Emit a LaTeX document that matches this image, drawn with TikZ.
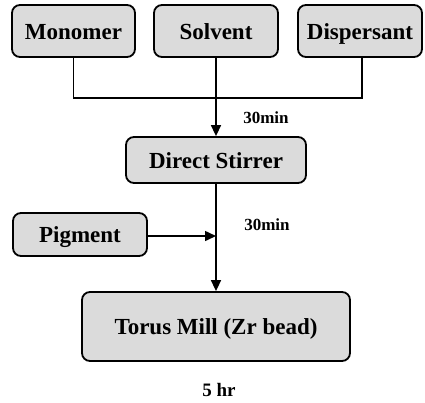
\documentclass[tikz,border=0pt]{standalone}
\usepackage{fontspec}
\setmainfont{Liberation Serif}
\usetikzlibrary{arrows.meta}
\begin{document}
\begin{tikzpicture}[x=1pt,y=-1pt,
  box/.style={draw=black,line width=1.8pt,rounded corners=8pt,fill=gray!28,
    inner sep=0pt,text height=16.5pt,text depth=0pt,
    font=\fontsize{23}{25}\selectfont\bfseries},
  lbl/.style={inner sep=0pt,font=\fontsize{17}{19}\selectfont\bfseries},
  conn/.style={line width=1.5pt},
  arr/.style={line width=1.5pt,-{Triangle[length=11pt,width=10pt]}}]
\useasboundingbox (0,0) rectangle (425,402);
\node[box,minimum width=123pt,minimum height=52pt] (mono) at (73.5,31) {Monomer};
\node[box,minimum width=124pt,minimum height=52pt] (solv) at (216,31) {Solvent};
\node[box,minimum width=124pt,minimum height=52pt] (disp) at (360,31) {Dispersant};
\node[box,minimum width=180pt,minimum height=46pt] (stir) at (216,160) {Direct Stirrer};
\node[box,minimum width=134pt,minimum height=43pt] (pig) at (80,234.5) {Pigment};
\node[box,minimum width=268pt,minimum height=69pt] (torus) at (216,326.5) {Torus Mill (Zr bead)};
\coordinate (j1) at (216,98);
\coordinate (j2) at (216,236);
\draw[conn] (mono.south) |- (j1) -| ([xshift=2pt]disp.south);
\draw[conn] (solv.south) -- (j1);
\draw[arr] (j1) -- (stir.north);
\draw[arr] (stir.south) -- (torus.north);
\draw[arr] (pig.east |- j2) -- (j2);
\node[lbl] (t1) at (266,118) {30min};
\node[lbl] (t2) at (267,225) {30min};
\node[lbl,font=\fontsize{19}{21}\selectfont\bfseries] (t3) at (219,390) {5 hr};
\end{tikzpicture}
\end{document}
